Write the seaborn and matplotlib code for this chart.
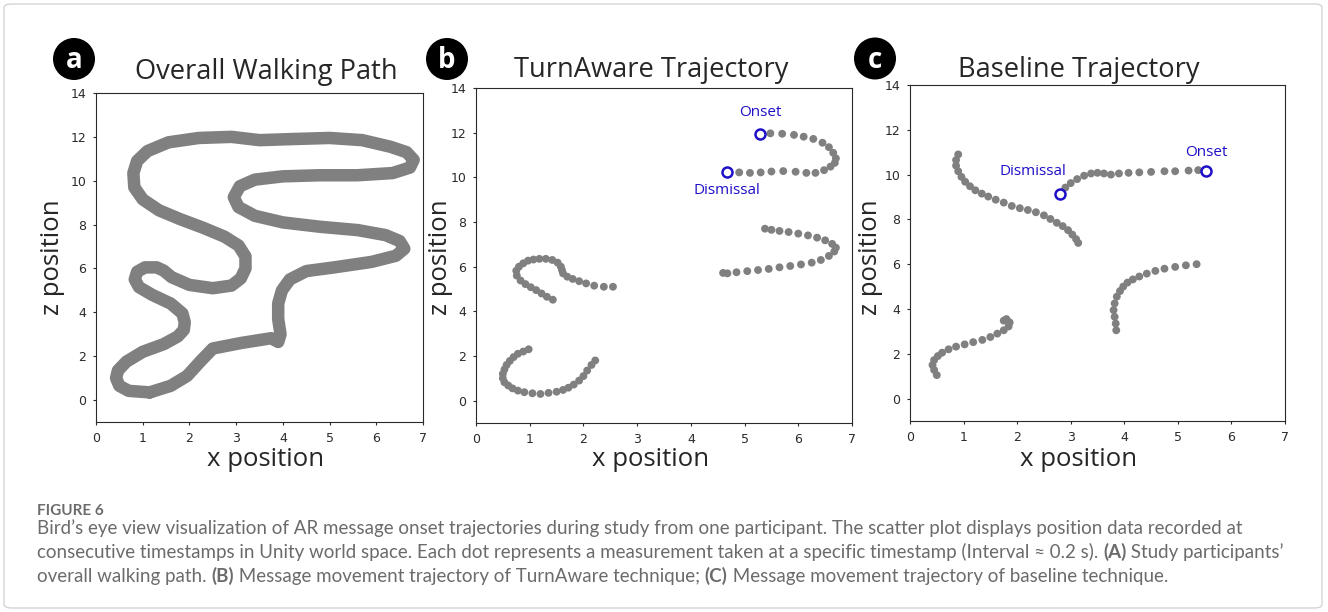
import numpy as np
import pandas as pd
import matplotlib
matplotlib.use("Agg")
import matplotlib.pyplot as plt
import seaborn as sns
from matplotlib.patches import Ellipse, FancyBboxPatch

# ---- data ----
# (a) overall walking path (closed loop)
walk_x = [1.15, 0.70, 0.50, 0.43, 0.47, 0.65, 1.00, 1.45, 1.75, 1.88, 1.90, 1.85, 1.60, 1.20,
          0.92, 0.83, 0.88, 1.05, 1.30, 1.45, 1.62, 2.00, 2.50, 2.90, 3.10, 3.20, 3.20, 3.05,
          2.75, 2.30, 1.80, 1.35, 1.00, 0.82, 0.80, 0.88, 1.10, 1.55, 2.20, 2.90, 3.50, 4.20,
          5.00, 5.70, 6.30, 6.65, 6.80, 6.72, 6.35, 5.60, 4.80, 4.00, 3.40, 3.08, 2.95, 3.05,
          3.40, 4.00, 4.80, 5.60, 6.20, 6.50, 6.60, 6.42, 5.90, 5.10, 4.50, 4.15, 3.98, 3.90,
          3.90, 3.95, 3.90, 3.75, 3.10, 2.50, 2.25, 1.95, 1.60, 1.15]
walk_z = [0.35, 0.42, 0.65, 1.00, 1.35, 1.75, 2.20, 2.55, 2.90, 3.20, 3.55, 3.95, 4.40, 4.80,
          5.15, 5.50, 5.85, 6.05, 6.05, 5.90, 5.60, 5.25, 5.10, 5.22, 5.55, 6.00, 6.55, 7.05,
          7.45, 7.85, 8.25, 8.65, 9.15, 9.70, 10.35, 10.90, 11.35, 11.75, 11.95, 12.00, 11.85,
          11.90, 11.95, 11.85, 11.55, 11.30, 10.95, 10.60, 10.35, 10.25, 10.25, 10.20, 10.05,
          9.75, 9.25, 8.80, 8.40, 8.10, 7.90, 7.75, 7.52, 7.25, 6.90, 6.58, 6.30, 6.05, 5.88,
          5.50, 5.00, 4.40, 3.70, 3.00, 2.65, 2.82, 2.60, 2.35, 1.80, 1.10, 0.65, 0.35]

# (b) TurnAware message trajectory samples
ta_x = [0.98, 0.88, 0.78, 0.70, 0.63, 0.57, 0.53, 0.50, 0.50, 0.53, 0.60, 0.68, 0.78, 0.90,
        1.05, 1.20, 1.35, 1.50, 1.62, 1.72, 1.82, 1.92, 2.00, 2.07, 2.15, 2.22,
        1.43, 1.32, 1.22, 1.12, 1.02, 0.92, 0.83, 0.76, 0.75, 0.80, 0.88, 0.97, 1.07, 1.18,
        1.30, 1.42, 1.52, 1.58, 1.60, 1.62, 1.70, 1.80, 1.92, 2.05, 2.20, 2.38, 2.55,
        5.48, 5.70, 5.92, 6.10, 6.28, 6.45, 6.57, 6.65, 6.70, 6.68, 6.60, 6.48, 6.32, 6.15,
        5.95, 5.72, 5.50, 5.30, 5.10, 4.90,
        4.60, 4.68, 4.85, 5.05, 5.25, 5.45, 5.65, 5.85, 6.05, 6.25, 6.42, 6.57, 6.67, 6.70,
        6.63, 6.50, 6.35, 6.18, 6.00, 5.82, 5.65, 5.50, 5.38]
ta_z = [2.30, 2.20, 2.10, 1.95, 1.78, 1.60, 1.40, 1.20, 1.00, 0.82, 0.68, 0.55, 0.45, 0.38,
        0.33, 0.30, 0.35, 0.40, 0.48, 0.58, 0.72, 0.90, 1.10, 1.35, 1.60, 1.80,
        4.52, 4.65, 4.80, 4.95, 5.08, 5.22, 5.38, 5.60, 5.82, 6.00, 6.15, 6.27, 6.32, 6.35,
        6.35, 6.30, 6.18, 6.00, 5.85, 5.70, 5.55, 5.45, 5.35, 5.25, 5.15, 5.10, 5.10,
        11.97, 11.95, 11.90, 11.82, 11.72, 11.55, 11.35, 11.10, 10.85, 10.65, 10.48, 10.32,
        10.20, 10.20, 10.25, 10.28, 10.26, 10.22, 10.20, 10.22,
        5.72, 5.70, 5.75, 5.80, 5.85, 5.90, 5.97, 6.03, 6.10, 6.18, 6.30, 6.48, 6.68, 6.85,
        7.02, 7.18, 7.30, 7.40, 7.48, 7.55, 7.60, 7.65, 7.70]
ta_onset = (5.29, 11.95)
ta_dismissal = (4.67, 10.25)

# (c) Baseline message trajectory samples
bl_x = [0.90, 0.86, 0.86, 0.90, 0.96, 1.03, 1.12, 1.22, 1.34, 1.46, 1.60, 1.75, 1.90, 2.05,
        2.20, 2.35, 2.50, 2.62, 2.74, 2.85, 2.95, 3.03, 3.10, 3.14,
        2.90, 3.00, 3.12, 3.25, 3.38, 3.50, 3.62, 3.75, 3.90, 4.08, 4.28, 4.50, 4.75, 4.95,
        5.20, 5.38,
        0.50, 0.45, 0.42, 0.45, 0.52, 0.60, 0.72, 0.86, 1.02, 1.18, 1.35, 1.50, 1.63, 1.75,
        1.84, 1.86, 1.80, 1.75,
        3.85, 3.84, 3.82, 3.80, 3.82, 3.86, 3.92, 3.98, 4.06, 4.16, 4.28, 4.42, 4.58, 4.75,
        4.95, 5.15, 5.35]
bl_z = [10.90, 10.65, 10.40, 10.15, 9.90, 9.68, 9.48, 9.30, 9.15, 9.02, 8.88, 8.75, 8.60,
        8.50, 8.42, 8.32, 8.18, 8.02, 7.85, 7.70, 7.52, 7.32, 7.12, 6.95,
        9.42, 9.62, 9.80, 9.95, 10.05, 10.08, 10.05, 10.00, 10.05, 10.08, 10.10, 10.12,
        10.15, 10.15, 10.18, 10.20,
        1.05, 1.28, 1.50, 1.72, 1.90, 2.05, 2.20, 2.32, 2.42, 2.52, 2.62, 2.75, 2.90, 3.05,
        3.22, 3.40, 3.55, 3.48,
        3.05, 3.35, 3.65, 3.95, 4.25, 4.55, 4.80, 5.00, 5.18, 5.32, 5.45, 5.58, 5.70, 5.80,
        5.88, 5.95, 6.00]
bl_onset = (5.52, 10.18)
bl_dismissal = (2.80, 9.15)

panel_titles = ["Overall Walking Path", "TurnAware Trajectory", "Baseline Trajectory"]
panel_letters = ["a", "b", "c"]
x_ticks = [0, 1, 2, 3, 4, 5, 6, 7]
z_ticks = [0, 2, 4, 6, 8, 10, 12, 14]

caption_head = "FIGURE 6"
caption_lines = [
    [("Bird\u2019s eye view visualization of AR message onset trajectories during study from one participant. "
      "The scatter plot displays position data recorded at", False)],
    [("consecutive timestamps in Unity world space. Each dot represents a measurement taken at a specific "
      "timestamp (Interval \u2248 0.2 s). ", False), ("(A)", True), (" Study participants\u2019", False)],
    [("overall walking path. ", False), ("(B)", True),
     (" Message movement trajectory of TurnAware technique; ", False), ("(C)", True),
     (" Message movement trajectory of baseline technique.", False)],
]

# ---- style ----
sns.set_theme(style="ticks")
plt.rcParams["font.family"] = ["DejaVu Sans"]
plt.rcParams["axes.linewidth"] = 0.8
plt.rcParams["xtick.major.size"] = 2.5
plt.rcParams["ytick.major.size"] = 2.5
plt.rcParams["xtick.major.width"] = 0.8
plt.rcParams["ytick.major.width"] = 0.8

GRAY = "#808080"
BLUE = "#1f10c8"
LABEL_FONT = ["Open Sans", "DejaVu Sans"]
CAP_FONT = ["Lato", "DejaVu Sans"]

fig = plt.figure(figsize=(13.28, 6.12), dpi=100)
W, H = 1328, 612

# light frame round the whole figure
fig.patches.append(FancyBboxPatch((4 / W, 4 / H), 1 - 10 / W, 1 - 8 / H,
                                  boxstyle="round,pad=0,rounding_size=0.006",
                                  transform=fig.transFigure, fc="none",
                                  ec="#d4d4d4", lw=1.0))

# axes boxes in pixels: left, top, right, bottom
boxes = [(96, 93, 423, 422), (476, 88, 852, 423), (910, 85, 1285, 421)]
axes = []
for (l, t, r, b) in boxes:
    ax = fig.add_axes([l / W, 1 - b / H, (r - l) / W, (b - t) / H])
    axes.append(ax)

# (a) walking path
walk = pd.DataFrame({"x": walk_x, "z": walk_z})
sns.lineplot(data=walk, x="x", y="z", sort=False, estimator=None, color=GRAY,
             lw=9.0, ax=axes[0], solid_joinstyle="round", solid_capstyle="round")

# (b) TurnAware
ta = pd.DataFrame({"x": ta_x, "z": ta_z})
sns.scatterplot(data=ta, x="x", y="z", color=GRAY, s=32, edgecolor="none",
                ax=axes[1], zorder=2)
# (c) Baseline
bl = pd.DataFrame({"x": bl_x, "z": bl_z})
sns.scatterplot(data=bl, x="x", y="z", color=GRAY, s=32, edgecolor="none",
                ax=axes[2], zorder=2)

for ax, onset, dis in [(axes[1], ta_onset, ta_dismissal), (axes[2], bl_onset, bl_dismissal)]:
    marks = pd.DataFrame({"x": [onset[0], dis[0]], "z": [onset[1], dis[1]]})
    sns.scatterplot(data=marks, x="x", y="z", s=52, facecolor="white",
                    edgecolor=BLUE, linewidth=1.8, ax=ax, zorder=3)

lab_kw = dict(color=BLUE, ha="center", va="center", fontsize=11, family=LABEL_FONT)
axes[1].text(ta_onset[0], ta_onset[1] + 0.95, "Onset", **lab_kw)
axes[1].text(ta_dismissal[0], ta_dismissal[1] - 0.85, "Dismissal", **lab_kw)
axes[2].text(bl_onset[0] + 0.02, bl_onset[1] + 0.8, "Onset", **lab_kw)
axes[2].text(bl_dismissal[0] - 0.5, bl_dismissal[1] + 1.0, "Dismissal", **lab_kw)

# per-panel text placement (axes fractions / points)
title_x = [0.52, 0.465, 0.45]
title_pad = [10, 8, 6]
xlab_y = [-0.0775, -0.072, -0.077]
ylab_x = [-0.095, -0.061, -0.072]
ylab_y = [0.5, 0.494, 0.487]

for i, (ax, title) in enumerate(zip(axes, panel_titles)):
    ax.set_xlim(0, 7)
    ax.set_ylim(-1, 14)
    ax.set_xticks(x_ticks)
    ax.set_yticks(z_ticks)
    ax.tick_params(labelsize=9, colors="#2a2a2a", pad=4.5)
    for s in ax.spines.values():
        s.set_color("#2a2a2a")
    ax.set_xlabel("x position", fontsize=18.5, family=LABEL_FONT)
    ax.set_ylabel("z position", fontsize=18.5, family=LABEL_FONT)
    ax.xaxis.set_label_coords(title_x[i], xlab_y[i])
    ax.yaxis.set_label_coords(ylab_x[i], ylab_y[i])
    ax.set_title(title, fontsize=19.6, family=LABEL_FONT, pad=title_pad[i], x=title_x[i])

# letter badges
for letter, cx, cy in zip(panel_letters, [74, 447, 875], [59, 59, 58.5]):
    fig.patches.append(Ellipse((cx / W, 1 - cy / H), 42 / W, 42 / H,
                               transform=fig.transFigure, fc="black", ec="none"))
    fig.text(cx / W, 1 - (cy + 1.5) / H, letter, color="white", ha="center", va="center",
             fontsize=20, fontweight="bold", family=LABEL_FONT)

# caption
CAP = "#6b6b6b"
fig.text(37 / W, 1 - 515 / H, caption_head, color=CAP, fontsize=11, fontweight="bold",
         family=CAP_FONT, va="baseline")
renderer = fig.canvas.get_renderer()
for i, pieces in enumerate(caption_lines):
    y = 1 - (534 + 24 * i) / H
    x_px = 37
    for txt, bold in pieces:
        t = fig.text(x_px / W, y, txt, va="baseline", ha="left", color=CAP,
                     fontsize=13.5, family=CAP_FONT,
                     fontweight="bold" if bold else "normal")
        x_px = t.get_window_extent(renderer).x1

fig.savefig("out.png", dpi=100)
